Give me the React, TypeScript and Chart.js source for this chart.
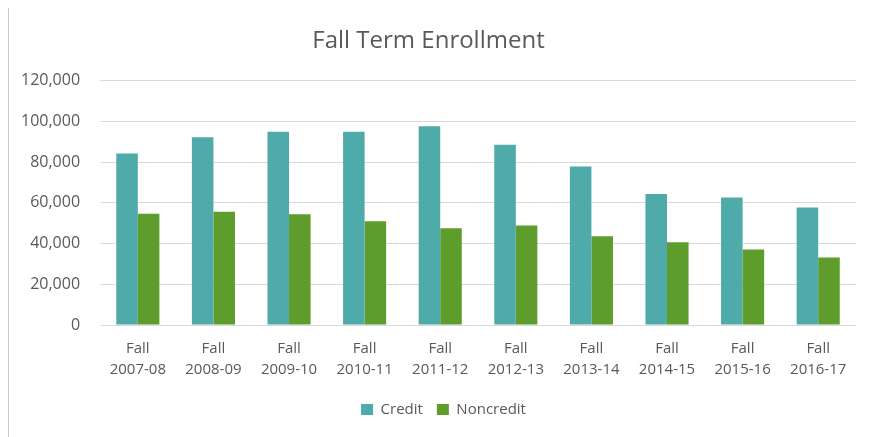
import React, { useEffect, useRef } from "react";
import { Chart, registerables } from "chart.js";

Chart.register(...registerables);

const categories: string[][] = [
  ["Fall", "2007-08"],
  ["Fall", "2008-09"],
  ["Fall", "2009-10"],
  ["Fall", "2010-11"],
  ["Fall", "2011-12"],
  ["Fall", "2012-13"],
  ["Fall", "2013-14"],
  ["Fall", "2014-15"],
  ["Fall", "2015-16"],
  ["Fall", "2016-17"],
];

const creditValues: number[] = [84300, 92200, 95000, 95000, 97700, 88600, 77900, 64400, 62700, 57700];
const noncreditValues: number[] = [54700, 55700, 54400, 51000, 47500, 48900, 43600, 40700, 37100, 33200];

const FONT = "'Open Sans', 'Liberation Sans', sans-serif";
const TEXT = "#595959";

const legendShift = {
  id: "legendShift",
  afterLayout(chart: any) {
    if (chart.legend) {
      chart.legend.left += 15;
      chart.legend.right += 15;
    }
  },
};

export default function App() {
  const ref = useRef<HTMLCanvasElement | null>(null);

  useEffect(() => {
    if (!ref.current) return;
    const chart = new Chart(ref.current, {
      type: "bar",
      data: {
        labels: categories,
        datasets: [
          {
            label: "Credit",
            data: creditValues,
            backgroundColor: "#4EABAA",
            categoryPercentage: 0.57,
            barPercentage: 1,
          },
          {
            label: "Noncredit",
            data: noncreditValues,
            backgroundColor: "#5E9C2C",
            categoryPercentage: 0.57,
            barPercentage: 1,
          },
        ],
      },
      plugins: [legendShift],
      options: {
        responsive: false,
        animation: false,
        layout: { padding: { left: -8, right: 18, top: 17, bottom: 11 } },
        plugins: {
          title: {
            display: true,
            text: "Fall Term Enrollment",
            color: TEXT,
            font: { family: FONT, size: 24, weight: "normal" },
            padding: { top: 4, bottom: 25 },
          },
          legend: {
            position: "bottom",
            labels: {
              color: TEXT,
              font: { family: FONT, size: 15 },
              boxWidth: 12,
              boxHeight: 11,
              padding: 14,
            },
          },
          tooltip: { enabled: false },
        },
        scales: {
          x: {
            grid: { display: false },
            border: { display: false },
            ticks: {
              color: TEXT,
              font: { family: FONT, size: 15, lineHeight: 1.4 },
              padding: 5,
              maxRotation: 0,
            },
            afterFit: (scale: any) => {
              scale.height += 3;
            },
          },
          y: {
            min: 0,
            max: 120000,
            ticks: {
              stepSize: 20000,
              color: TEXT,
              font: { family: FONT, size: 16 },
              padding: 20,
            },
            grid: { color: "#d9d9d9", drawTicks: false },
            border: { display: false },
          },
        },
      },
    });
    return () => chart.destroy();
  }, []);

  return (
    <div
      style={{
        width: 867,
        height: 434,
        marginTop: -3,
        border: "1px solid #c8c8c8",
        boxSizing: "border-box",
        background: "#fff",
      }}
    >
      <canvas ref={ref} width={865} height={432} style={{ display: "block" }} />
    </div>
  );
}
